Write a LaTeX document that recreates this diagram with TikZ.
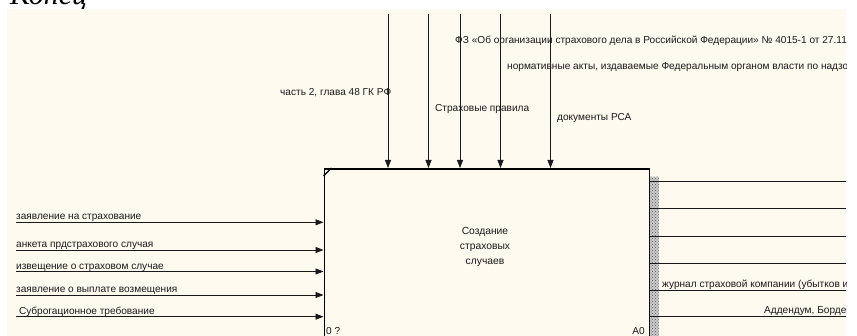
\documentclass[tikz,border=0pt]{standalone}
\usepackage{fontspec}
\setmainfont{Liberation Sans}
\newfontfamily\titlefont{Liberation Serif}
\usetikzlibrary{arrows.meta,patterns}
\definecolor{paper}{RGB}{255,250,240}
\definecolor{ink}{RGB}{25,25,25}
\tikzset{
  lbl/.style={inner sep=0pt, anchor=base west, text=ink, font=\fontsize{10.1}{12}\selectfont},
  flow/.style={draw=ink, line width=0.8pt, -{Triangle[length=8pt,width=6pt]}},
  outline/.style={draw=ink, line width=0.8pt},
  actbox/.style={draw=black, line width=1.8pt, fill=paper, minimum width=325pt, minimum height=180pt, inner sep=0pt}
}
\begin{document}
\begin{tikzpicture}[x=1pt,y=-1pt]
\useasboundingbox (0,0) rectangle (857,336);
% heading above the sheet
\node[inner sep=0pt, anchor=base west, font=\titlefont\itshape\fontsize{30}{32}\selectfont] (title) at (10,4.5) {Конец};
% sheet
\fill[paper] (7,9) rectangle (846,336);
\begin{scope}
\clip (7,9) rectangle (846,336);
% activity box A0
\node[actbox, anchor=north west] (box) at (323.5,168) {};
\draw[line width=1.4pt] ([yshift=-8pt]box.north west) -- ([xshift=8pt]box.north west);
\node[align=center, text=ink, font=\fontsize{10.3}{15}\selectfont, inner sep=0pt] (name) at (485,247) {Создание\\страховых\\случаев};
\node[lbl] (num) at (326,335) {0 ?};
\node[lbl, anchor=base east] (nodeid) at (645,335) {A0};
% shadow strip on the right side
\fill[gray!40] (649.5,177) rectangle (658.5,340);
\fill[pattern=crosshatch dots, pattern color=black!70] (649.5,177) rectangle (658.5,340);
% controls from above
\foreach \n/\x in {c1/388, c2/428.5, c3/460, c4/500.5, c5/550.5}{
  \coordinate (\n) at (\x,14);
  \draw[flow] (\n) -- (\n |- box.north);
}
\node[lbl] (t1) at (280,95.5) {часть 2, глава 48 ГК РФ};
\node[lbl] (t2) at (435,111.5) {Страховые правила};
\node[lbl] (t3) at (455,43.5) {ФЗ «Об организации страхового дела в Российской Федерации» № 4015-1 от 27.11.1992};
\node[lbl] (t4) at (507,69.5) {нормативные акты, издаваемые Федеральным органом власти по надзору за страховой деятельностью};
\node[lbl] (t5) at (557,120.5) {документы РСА};
% inputs from the left
\foreach \n/\y in {i1/222.3, i2/250, i3/271.5, i4/295, i5/316.7}{
  \coordinate (\n) at (16,\y);
  \draw[flow] (\n) -- (\n -| box.west);
}
\node[lbl] (l1) at (16,220) {заявление на страхование};
\node[lbl] (l2) at (16,247.5) {анкета прдстрахового случая};
\node[lbl] (l3) at (16,269.5) {извещение о страховом случае};
\node[lbl] (l4) at (16,292.5) {заявление о выплате возмещения};
\node[lbl] (l5) at (16,314.2) {\ Суброгационное требование};
% outputs to the right
\foreach \n/\y in {o1/181, o2/208.3, o3/236, o4/263.3, o5/290, o6/316.7}{
  \coordinate (\n) at (846,\y);
  \draw[outline] (\n -| box.east) -- (\n);
}
\node[lbl] (r1) at (662,288) {журнал страховой компании (убытков и выплат)};
\node[lbl] (r2) at (764,313.5) {Аддендум, Бордеро};
\end{scope}
\end{tikzpicture}
\end{document}
